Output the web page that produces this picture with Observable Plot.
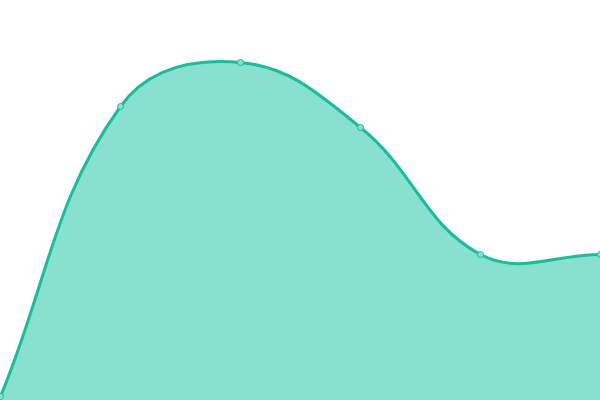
<!DOCTYPE html>
<html>
<head>
<meta charset="utf-8">
<script src="https://cdn.jsdelivr.net/npm/d3@7"></script>
<script src="https://cdn.jsdelivr.net/npm/@observablehq/plot@0.6"></script>
<style>
html, body { margin: 0; padding: 0; background: #fff; overflow: hidden; }
</style>
</head>
<body>
<div id="chart"></div>
<script>
const xs = [0, 1, 2, 3, 4, 5];
const values = [1, 73.5, 84.5, 68.25, 36.5, 36.5];

const data = xs.map((x, i) => ({x, y: values[i]}));

// Tension-based bezier spline (distance weighted), control points capped to the plot area
function splineCurve(tension, W, H) {
  return function(context) {
    let pts = [], line = NaN;
    const draw = () => {
      const n = pts.length;
      if (!n) return;
      const cps = pts.map((cur, i) => {
        const prev = pts[i - 1] || cur, next = pts[i + 1] || cur;
        const d01 = Math.hypot(cur[0] - prev[0], cur[1] - prev[1]);
        const d12 = Math.hypot(next[0] - cur[0], next[1] - cur[1]);
        let s01 = d01 / (d01 + d12), s12 = d12 / (d01 + d12);
        s01 = isNaN(s01) ? 0 : s01; s12 = isNaN(s12) ? 0 : s12;
        const fa = tension * s01, fb = tension * s12;
        const cl = (v, m) => Math.max(0, Math.min(m, v));
        return {
          p: [cl(cur[0] - fa * (next[0] - prev[0]), W), cl(cur[1] - fa * (next[1] - prev[1]), H)],
          n: [cl(cur[0] + fb * (next[0] - prev[0]), W), cl(cur[1] + fb * (next[1] - prev[1]), H)]
        };
      });
      if (line) context.lineTo(pts[0][0], pts[0][1]);
      else context.moveTo(pts[0][0], pts[0][1]);
      for (let i = 1; i < n; ++i) {
        const a = cps[i - 1].n, b = cps[i].p;
        context.bezierCurveTo(a[0], a[1], b[0], b[1], pts[i][0], pts[i][1]);
      }
    };
    return {
      areaStart() { line = 0; },
      areaEnd() { line = NaN; },
      lineStart() { pts = []; },
      lineEnd() {
        draw();
        if (line || (line !== 0 && pts.length === 1)) context.closePath();
        line = 1 - line;
      },
      point(x, y) { pts.push([+x, +y]); }
    };
  };
}

const W = 600, H = 400;
const curve = splineCurve(0.4, W, H);

const chart = Plot.plot({
  width: W,
  height: H,
  margin: 0,
  x: {domain: [0, 5], axis: null},
  y: {domain: [0, 100], axis: null},
  style: {background: "#fff", overflow: "visible"},
  marks: [
    Plot.areaY(data, {x: "x", y: "y", curve, fill: "#88e0cf"}),
    Plot.lineY(data, {x: "x", y: "y", curve, stroke: "#1abc9c", strokeWidth: 3}),
    Plot.dot(data, {x: "x", y: "y", r: 3, fill: "#88e0cf", stroke: "#1abc9c", strokeWidth: 1})
  ]
});
document.getElementById("chart").appendChild(chart);
</script>
</body>
</html>
